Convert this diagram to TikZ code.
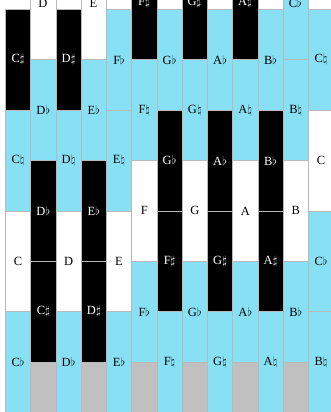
\documentclass[tikz,border=0pt]{standalone}
\usepackage{fontspec}
\setmainfont{Liberation Serif}
\definecolor{keyblue}{RGB}{136,224,245}
\definecolor{gridgray}{RGB}{185,185,185}
\definecolor{keygray}{RGB}{192,192,192}
\tikzset{
  cellbase/.style={rectangle, draw=gridgray, line width=0.8pt,
    minimum width=25.25pt, minimum height=100.75pt, inner sep=0pt,
    font=\fontsize{12.5}{12.5}\selectfont, anchor=north west},
  bk/.style={cellbase, fill=black, text=white},
  bl/.style={cellbase, fill=keyblue, text=black},
  wh/.style={cellbase, fill=white, text=black},
  gy/.style={cellbase, fill=keygray, minimum height=60pt},
  toplabel/.style={font=\fontsize{12.5}{12.5}\selectfont, inner sep=0pt}
}
\begin{document}
\begin{tikzpicture}[x=1pt,y=1pt]
\useasboundingbox (0,0) rectangle (331,-412);
\clip (0,0) rectangle (331,-412);
\fill[white] (0,0) rectangle (331,-412);
% even columns
\foreach \c/\r/\s/\t in {
  0/0/bk/C$\sharp$, 0/1/bl/C$\natural$, 0/2/wh/C, 0/3/bl/C$\flat$,
  2/0/bk/D$\sharp$, 2/1/bl/D$\natural$, 2/2/wh/D, 2/3/bl/D$\flat$,
  4/0/bl/F$\flat$, 4/1/bl/E$\natural$, 4/2/wh/E, 4/3/bl/E$\flat$,
  6/0/bl/G$\flat$, 6/1/bk/G$\flat$, 6/2/bk/F$\sharp$, 6/3/bl/F$\natural$,
  8/0/bl/A$\flat$, 8/1/bk/A$\flat$, 8/2/bk/G$\sharp$, 8/3/bl/G$\natural$,
  10/0/bl/B$\flat$, 10/1/bk/B$\flat$, 10/2/bk/A$\sharp$, 10/3/bl/A$\natural$,
  12/0/bl/C$\natural$, 12/1/wh/C, 12/2/bl/C$\flat$, 12/3/bl/B$\natural$}
  \node[\s] (k\c-\r) at ({5+25.25*\c}, {-(9+100.75*\r)}) {\t};
% odd columns, rows 1..3
\foreach \c/\r/\s/\t in {
  1/1/bl/D$\flat$, 1/2/bk/D$\flat$, 1/3/bk/C$\sharp$,
  3/1/bl/E$\flat$, 3/2/bk/E$\flat$, 3/3/bk/D$\sharp$,
  5/1/bl/F$\natural$, 5/2/wh/F, 5/3/bl/F$\flat$,
  7/1/bl/G$\natural$, 7/2/wh/G, 7/3/bl/G$\flat$,
  9/1/bl/A$\natural$, 9/2/wh/A, 9/3/bl/A$\flat$,
  11/1/bl/B$\natural$, 11/2/wh/B, 11/3/bl/B$\flat$}
  \node[\s] (k\c-\r) at ({5+25.25*\c}, {41.4-100.75*\r}) {\t};
% odd columns, gray bottom cells
\foreach \c in {1,3,5,7,9,11}
  \node[gy] (k\c-4) at ({5+25.25*\c}, -361.6) {};
% odd columns, top cells (label near top edge)
\foreach \c/\s/\tc/\t in {
  1/wh/black/D, 3/wh/black/E, 5/bk/white/F$\sharp$,
  7/bk/white/G$\sharp$, 9/bk/white/A$\sharp$, 11/bl/black/C$\flat$}{
  \node[\s] (k\c-0) at ({5+25.25*\c}, 41.4) {};
  \node[toplabel, text=\tc] (t\c) at ({5+25.25*\c+12.6}, -3) {\t};
}
\end{tikzpicture}
\end{document}
